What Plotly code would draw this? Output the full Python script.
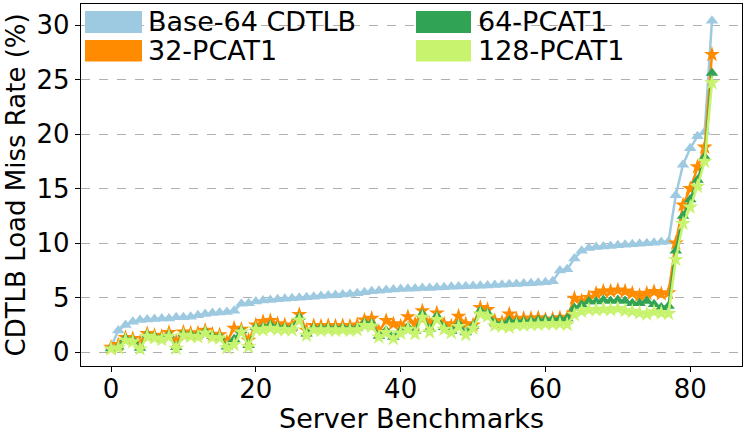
import plotly.graph_objects as go

# benchmark index (84 server workloads, sorted by baseline miss rate)
bench = list(range(84))

series_names = ["Base-64 CDTLB", "32-PCAT1", "64-PCAT1", "128-PCAT1"]

base64_cdtlb = [0.5, 2.0, 2.5, 2.8, 2.95, 3.0, 3.05, 3.1, 3.1, 3.2,
                3.2, 3.25, 3.4, 3.5, 3.6, 3.65, 3.7, 3.8, 4.45, 4.5,
                4.65, 4.75, 4.8, 4.85, 4.9, 4.95, 5.0, 5.05, 5.1, 5.15,
                5.2, 5.25, 5.3, 5.35, 5.4, 5.5, 5.6, 5.65, 5.7, 5.75,
                5.8, 5.82, 5.85, 5.88, 5.9, 5.93, 5.96, 6.0, 6.02, 6.05,
                6.08, 6.1, 6.13, 6.16, 6.2, 6.23, 6.26, 6.3, 6.33, 6.37,
                6.42, 6.5, 7.5, 7.6, 8.6, 9.3, 9.55, 9.65, 9.7, 9.75,
                9.8, 9.85, 9.9, 9.95, 10.0, 10.05, 10.1, 10.15, 14.4, 17.2,
                18.7, 19.8, 20.2, 30.4]

pcat1_32 = [0.45, 0.7, 1.35, 1.25, 0.9, 1.7, 1.55, 1.45, 1.8, 0.95,
            1.85, 1.75, 1.75, 2.0, 1.65, 1.6, 0.95, 2.2, 2.1, 1.1,
            2.5, 2.8, 2.9, 2.6, 2.5, 2.45, 3.45, 2.0, 2.45, 2.4,
            2.45, 2.4, 2.45, 2.4, 2.5, 2.95, 3.1, 1.9, 2.9, 2.6,
            2.4, 3.25, 2.6, 3.8, 2.6, 3.6, 2.6, 2.4, 3.3, 2.6,
            2.5, 4.1, 3.9, 2.9, 2.75, 3.5, 3.05, 3.1, 3.1, 3.15,
            3.0, 3.05, 3.15, 3.2, 4.95, 4.7, 5.0, 5.4, 5.6, 5.6,
            5.7, 5.6, 5.4, 5.2, 5.4, 5.55, 5.35, 5.45, 10.0, 13.5,
            15.0, 17.0, 18.8, 27.3]

pcat1_64 = [0.35, 0.5, 1.25, 1.1, 0.4, 1.6, 1.45, 1.3, 1.6, 0.45,
            1.7, 1.6, 1.55, 1.9, 1.5, 1.45, 0.5, 1.2, 2.0, 0.65,
            2.3, 2.3, 2.5, 2.35, 2.25, 2.25, 3.2, 1.7, 2.25, 2.2,
            2.25, 2.2, 2.25, 2.2, 2.25, 2.7, 2.65, 1.5, 2.0, 1.4,
            1.95, 2.3, 1.95, 3.5, 2.1, 3.3, 2.3, 1.95, 2.6, 1.8,
            2.4, 3.8, 3.6, 2.7, 2.6, 2.9, 2.8, 2.85, 2.9, 2.95,
            3.0, 3.0, 3.05, 3.1, 4.05, 4.35, 4.65, 4.65, 4.8, 4.7,
            4.8, 4.7, 4.5, 4.5, 4.7, 4.4, 4.1, 4.25, 9.3, 12.5,
            14.0, 15.8, 17.9, 25.6]

pcat1_128 = [0.3, 0.4, 1.1, 0.95, 0.3, 1.45, 1.3, 1.15, 1.45, 0.35,
             1.55, 1.45, 1.4, 1.75, 1.35, 1.3, 0.4, 0.7, 1.85, 0.5,
             2.1, 2.05, 2.2, 2.1, 2.05, 2.05, 2.95, 1.55, 2.05, 2.0,
             2.05, 2.0, 2.05, 2.0, 2.05, 2.45, 2.4, 1.4, 1.8, 1.25,
             1.75, 2.1, 1.7, 3.2, 1.85, 3.0, 2.1, 1.8, 2.35, 1.6,
             2.2, 3.5, 3.3, 2.45, 2.4, 2.3, 2.5, 2.5, 2.55, 2.55,
             2.6, 2.6, 2.6, 2.55, 3.45, 3.75, 3.9, 3.9, 3.95, 3.9,
             4.0, 3.8, 3.75, 3.6, 3.5, 3.7, 3.6, 3.55, 8.5, 11.8,
             13.3, 15.2, 17.5, 24.7]

colors = ["#9ecae1", "#ff8c00", "#31a354", "#c7f36e"]
symbols = ["triangle-up", "star", "triangle-up", "star"]
font = "DejaVu Sans"

fig = go.Figure()
for name, vals, col, sym in zip(series_names,
                                [base64_cdtlb, pcat1_32, pcat1_64, pcat1_128],
                                colors, symbols):
    fig.add_trace(go.Scatter(
        x=bench, y=vals, name=name, mode="lines+markers",
        line=dict(color=col, width=2.5),
        marker=dict(symbol=sym, size=12 if sym == "star" else 11, color=col,
                    line=dict(width=0)),
        showlegend=False))

# plot area in pixels: left 81, right 742, top 4, bottom 366
L, R, T, B = 81, 742, 4, 366
def px(x):
    return (x - L) / (R - L)
def py(y):
    return (B - y) / (B - T)

# hand-made legend with wide colour patches (matplotlib style)
legend_cells = [(0, 0), (0, 1), (1, 0), (1, 1)]   # (col, row)
patch_x = [(85, 142), (416, 471)]
patch_y = [(11, 33), (40, 61.5)]
text_x = [146, 476]
for (c, r), name, col in zip(legend_cells, series_names, colors):
    fig.add_shape(type="rect", xref="paper", yref="paper",
                  x0=px(patch_x[c][0]), x1=px(patch_x[c][1]),
                  y0=py(patch_y[r][1]), y1=py(patch_y[r][0]),
                  fillcolor=col, line=dict(width=0))
    fig.add_annotation(text=name, xref="paper", yref="paper",
                       x=px(text_x[c]), y=py(sum(patch_y[r]) / 2),
                       xanchor="left", yanchor="middle", showarrow=False,
                       font=dict(family=font, size=27, color="black"))

# axis titles
fig.add_annotation(text="CDTLB Load Miss Rate (%)", xref="paper", yref="paper",
                   x=px(15.5), y=0.5, textangle=-90, showarrow=False,
                   xanchor="center", yanchor="middle",
                   font=dict(family=font, size=26, color="black"))
fig.add_annotation(text="Server Benchmarks", xref="paper", yref="paper",
                   x=0.5, y=py(418), showarrow=False,
                   xanchor="center", yanchor="middle",
                   font=dict(family=font, size=27, color="black"))

fig.update_layout(
    width=747, height=438,
    margin=dict(l=L, r=747 - R, t=T, b=438 - B),
    paper_bgcolor="white", plot_bgcolor="white",
    font=dict(family=font, size=26, color="black"),
    showlegend=False)
fig.update_xaxes(range=[-4.15, 87.15], tickvals=[0, 20, 40, 60, 80],
                 showgrid=False, zeroline=False,
                 showline=True, mirror=True, linecolor="black", linewidth=1.3,
                 ticks="outside", ticklen=5, tickwidth=1.3, tickcolor="black",
                 ticklabelstandoff=-5,
                 tickfont=dict(family=font, size=26, color="black"))
fig.update_yaxes(range=[-1.26, 31.93], tickvals=[0, 5, 10, 15, 20, 25, 30],
                 showgrid=True, gridcolor="#b0b0b0", griddash="dash", gridwidth=1,
                 zeroline=False,
                 showline=True, mirror=True, linecolor="black", linewidth=1.3,
                 ticks="outside", ticklen=5, tickwidth=1.3, tickcolor="black",
                 tickfont=dict(family=font, size=26, color="black"))

# drop the page's default body margin so the figure sits at the window corner
fig.write_html("out.html", config={"displayModeBar": False},
               post_script="document.body.style.margin='0px';")
